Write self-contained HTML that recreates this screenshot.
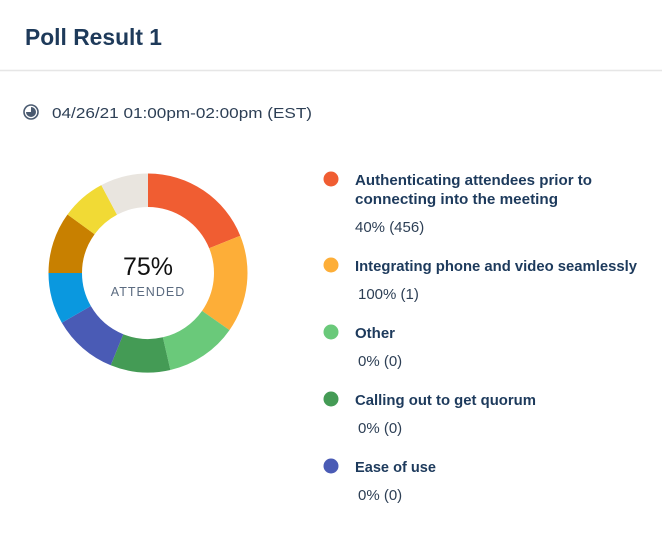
<!DOCTYPE html>
<html><head><meta charset="utf-8"><style>
html,body{margin:0;padding:0;background:#fff;}
svg{display:block;font-family:"Liberation Sans",sans-serif;}
</style></head><body>
<svg id="chart" width="662" height="542" viewBox="0 0 662 542">
  <text x="25" y="45" font-size="23" font-weight="bold" fill="#1e3a5a" textLength="137" lengthAdjust="spacingAndGlyphs">Poll Result 1</text>
  <line x1="0" y1="70.5" x2="662" y2="70.5" stroke="#e6e6e6" stroke-width="1.5"/>
  <g>
    <circle cx="31" cy="112" r="7" fill="none" stroke="#4a5a70" stroke-width="1.6"/>
    <path d="M31 112 L31 107 A5 5 0 1 1 26 112 Z" fill="#4a5a70"/>
  </g>
  <text x="52" y="118" font-size="15" fill="#2d3f55" textLength="260" lengthAdjust="spacingAndGlyphs">04/26/21  01:00pm-02:00pm (EST)</text>
  <g id="donut"></g>
  <text x="148" y="275" text-anchor="middle" font-size="25" fill="#111">75%</text>
  <text x="148" y="296" text-anchor="middle" font-size="12.5" fill="#5b6b80" letter-spacing="1">ATTENDED</text>
  <g id="legend"></g>
</svg>
<script>
const categories = ["Authenticating attendees prior to connecting into the meeting","Integrating phone and video seamlessly","Other","Calling out to get quorum","Ease of use","Segment 6","Segment 7","Segment 8","Segment 9"];
const sliceValues = [68,57,42,35,38,30,36,26,28];
const colors = ["#F05D32","#FDAE38","#6AC97A","#449B55","#4A5BB5","#0A98DF","#C88000","#F1DA35","#E9E5DF"];
const legendLabels = [["Authenticating attendees prior to","connecting into the meeting"],["Integrating phone and video seamlessly"],["Other"],["Calling out to get quorum"],["Ease of use"]];
const legendValues = ["40% (456)","100% (1)","0% (0)","0% (0)","0% (0)"];

const NS="http://www.w3.org/2000/svg";
const cx=148, cy=273, R=99.5, r=66;
const total = sliceValues.reduce((a,b)=>a+b,0);
function pt(a,rad){return [cx+rad*Math.sin(a), cy-rad*Math.cos(a)];}
const donut=document.getElementById('donut');
let acc=0;
sliceValues.forEach((v,i)=>{
  const a0=acc/total*2*Math.PI; acc+=v; const a1=acc/total*2*Math.PI;
  const large=(a1-a0)>Math.PI?1:0;
  const [x0,y0]=pt(a0,R),[x1,y1]=pt(a1,R),[x2,y2]=pt(a1,r),[x3,y3]=pt(a0,r);
  const p=document.createElementNS(NS,'path');
  p.setAttribute('d',`M${x0} ${y0} A${R} ${R} 0 ${large} 1 ${x1} ${y1} L${x2} ${y2} A${r} ${r} 0 ${large} 0 ${x3} ${y3} Z`);
  p.setAttribute('fill',colors[i]);
  
  
  donut.appendChild(p);
});
const legend=document.getElementById('legend');
let y=179;
const widths=[[237,203],[282],[40],[181],[81]];
legendLabels.forEach((lines,i)=>{
  const g=document.createElementNS(NS,'g');
  
  
  const c=document.createElementNS(NS,'circle');
  c.setAttribute('cx',331); c.setAttribute('cy',y); c.setAttribute('r',7.5); c.setAttribute('fill',colors[i]);
  
  
  g.appendChild(c);
  lines.forEach((ln,j)=>{
    const t=document.createElementNS(NS,'text');
    t.setAttribute('x',355); t.setAttribute('y',y+6+j*19);
    t.setAttribute('font-size','14.5'); t.setAttribute('font-weight','bold'); t.setAttribute('fill','#1d3a5c');
    t.setAttribute('textLength',widths[i][j]); t.setAttribute('lengthAdjust','spacingAndGlyphs');
    t.textContent=ln;
    
    
    g.appendChild(t);
  });
  const vy=y+6+(lines.length-1)*19+28;
  const vt=document.createElementNS(NS,'text');
  vt.setAttribute('x', i===0?355:358); vt.setAttribute('y',vy);
  vt.setAttribute('font-size','15'); vt.setAttribute('fill','#2d3f55');
  vt.textContent=legendValues[i];
  
  
  g.appendChild(vt);
  legend.appendChild(g);
  y = vy + 33;
});
</script>
</body></html>
